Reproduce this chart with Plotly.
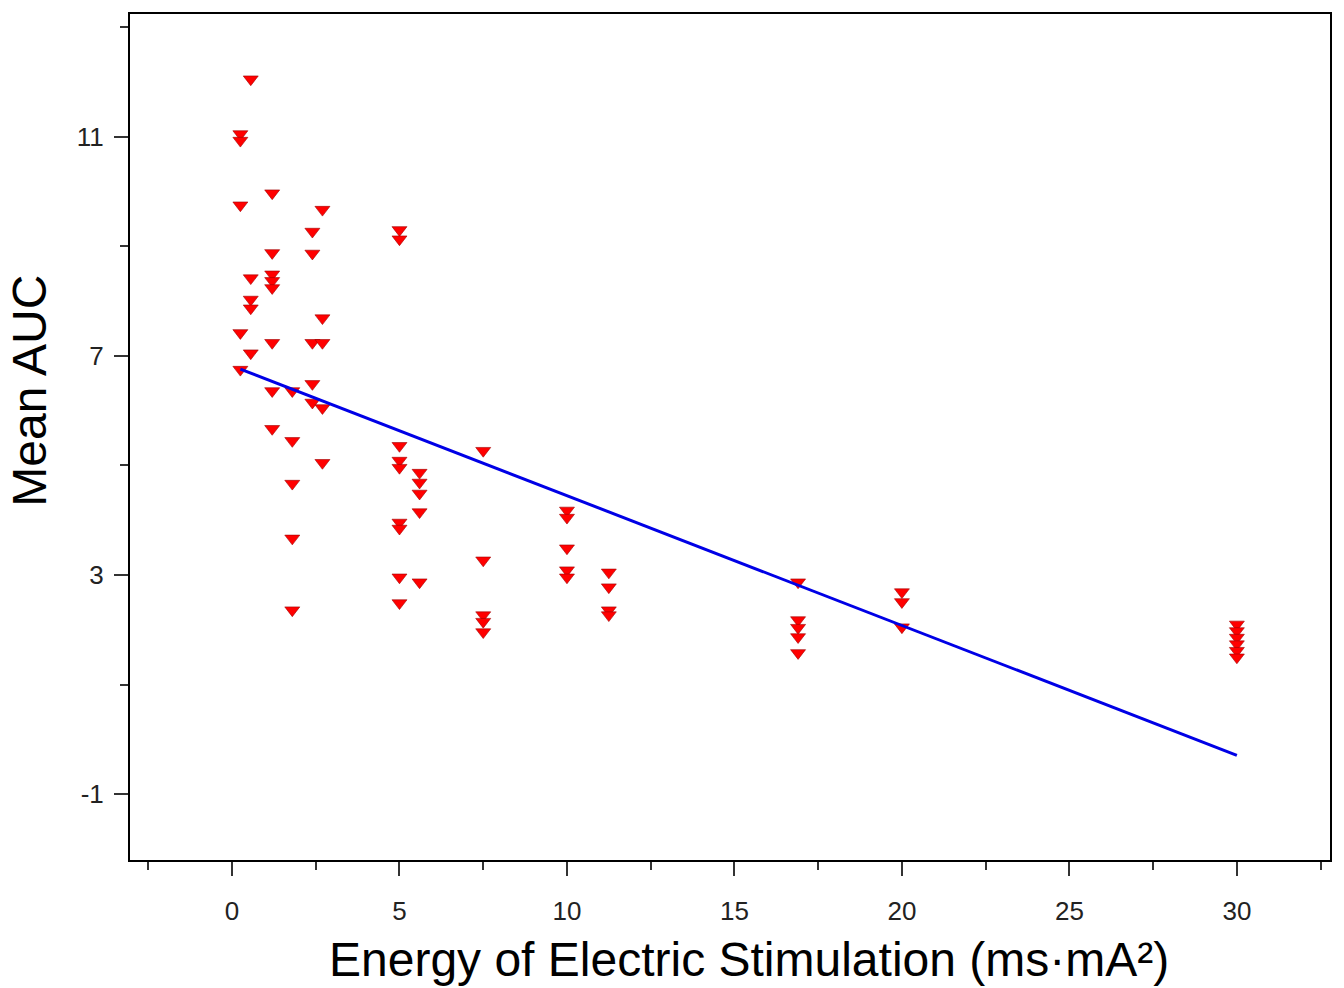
import plotly.graph_objects as go

# Data
energy = (
    [0.25] * 5 + [0.56] * 5 + [1.2] * 8 + [1.8] * 5 + [2.4] * 5 + [2.7] * 5
    + [5.0] * 9 + [5.6] * 5 + [7.5] * 5 + [10.0] * 5 + [11.25] * 4
    + [16.9] * 5 + [20.0] * 3 + [30.0] * 6
)
mean_auc = (
    [11.05, 10.93, 9.75, 7.42, 6.75]
    + [12.05, 8.42, 8.03, 7.87, 7.05]
    + [9.97, 8.88, 8.49, 8.37, 8.24, 7.24, 6.36, 5.67]
    + [6.36, 5.45, 4.67, 3.67, 2.36]
    + [9.27, 8.87, 7.24, 6.49, 6.15]
    + [9.67, 7.69, 7.24, 6.05, 5.05]
    + [9.3, 9.13, 5.36, 5.09, 4.96, 3.96, 3.85, 2.96, 2.49]
    + [4.87, 4.69, 4.49, 4.15, 2.87]
    + [5.27, 3.27, 2.27, 2.15, 1.96]
    + [4.18, 4.05, 3.49, 3.09, 2.96]
    + [3.05, 2.78, 2.36, 2.27]
    + [2.87, 2.18, 2.04, 1.87, 1.58]
    + [2.69, 2.51, 2.05]
    + [2.1, 1.98, 1.86, 1.74, 1.62, 1.5]
)
fit_x = [0.25, 30.0]
fit_y = [6.76, -0.29]

x_ticks = [0, 5, 10, 15, 20, 25, 30]
x_tick_text = ["0", "5", "10", "15", "20", "25", "30"]
y_ticks = [-1, 3, 7, 11]
y_tick_text = ["-1", "3", "7", "11"]

FONT = "Arial, Liberation Sans, sans-serif"

fig = go.Figure()
fig.add_trace(go.Scatter(
    x=energy, y=mean_auc, mode="markers",
    marker=dict(symbol="triangle-down", size=13, color="#ff0000",
                line=dict(width=0.6, color="#a00000")),
    showlegend=False,
))
fig.add_trace(go.Scatter(
    x=fit_x, y=fit_y, mode="lines",
    line=dict(color="#0000e6", width=3),
    showlegend=False,
))

axis_common = dict(
    showgrid=False, zeroline=False, showline=True, linecolor="black",
    linewidth=2, mirror=True, ticks="outside", ticklen=14, tickwidth=2,
    tickcolor="#333333", tickfont=dict(family=FONT, size=26, color="#222222"),
)

fig.update_layout(
    width=1344, height=988,
    margin=dict(l=130, r=14, t=12, b=128),
    paper_bgcolor="white", plot_bgcolor="white",
    xaxis=dict(range=[-3.045, 32.78], tickvals=x_ticks, ticktext=x_tick_text,
               minor=dict(dtick=2.5, tick0=0, ticks="outside", ticklen=8,
                          tickwidth=2, tickcolor="#333333"),
               ticklabelstandoff=13, **axis_common),
    yaxis=dict(range=[-2.2, 13.24], tickvals=y_ticks, ticktext=y_tick_text,
               minor=dict(dtick=2, tick0=-1, ticks="outside", ticklen=8,
                          tickwidth=2, tickcolor="#333333"),
               ticklabelstandoff=5, **axis_common),
    annotations=[
        dict(text="Energy of Electric Stimulation (ms·mA²)", xref="paper", yref="paper",
             x=0.516, y=-0.118, xanchor="center", yanchor="middle", showarrow=False,
             font=dict(family=FONT, size=48, color="black")),
        dict(text="Mean AUC", xref="paper", yref="paper", textangle=-90,
             x=-0.084, y=0.555, xanchor="center", yanchor="middle", showarrow=False,
             font=dict(family=FONT, size=48, color="black")),
    ],
)

fig.write_html(
    "out.html",
    config={"displayModeBar": False},
    post_script="document.body.style.margin='0px';document.body.style.overflow='hidden';",
)
